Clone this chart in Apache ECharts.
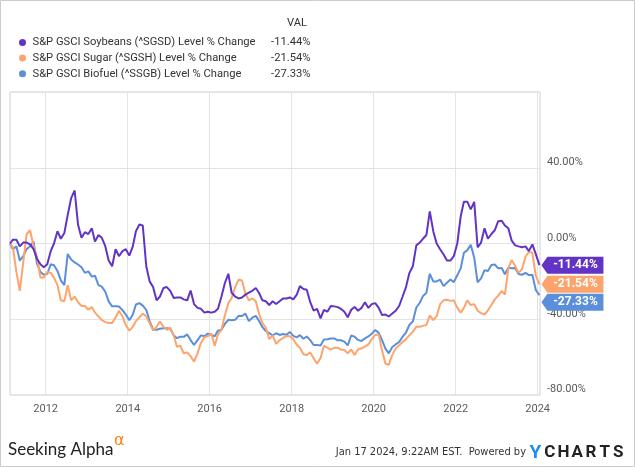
<!DOCTYPE html>
<html>
<head>
<meta charset="utf-8">
<script src="https://cdn.jsdelivr.net/npm/echarts@6/dist/echarts.min.js"></script>
<style>
html,body{margin:0;padding:0;background:#fff;}
#c{width:635px;height:467px;}
</style>
</head>
<body>
<div id="c"></div>
<script>
// Series names (legend)
const names = [
  'S&P GSCI Soybeans (^SGSD) Level % Change',
  'S&P GSCI Sugar (^SGSH) Level % Change',
  'S&P GSCI Biofuel (^SSGB) Level % Change'
];
const colors = ['#6134c6', '#fda46c', '#5b8edb'];

// Sampling dates: 2011-02-17, then mid-month 2011-03 .. 2023-12, then 2024-01-17
const dates = (function () {
  const d = ['2011-02-17'];
  for (let y = 2011; y <= 2023; y++) {
    for (let m = 1; m <= 12; m++) {
      if (y === 2011 && m < 3) continue;
      d.push(y + '-' + (m < 10 ? '0' + m : m) + '-15');
    }
  }
  d.push('2024-01-17');
  return d;
})();

// Soybeans % change
const soybeans = [
  0, 2, 2, -1.5, 0.5, 0.5, -0.5, -3, -8, -11, -12.5,
  -11, -4, 0, 6.5, 2.5, 5.5, 15, 24, 28, 10, 3, 6,
  5, 8, 1, 4.5, 3, -1.4, -9, -12, -3, -6.7, -4, -3,
  -6.4, -1.5, 6.5, 10, 9.5, -12, -20, -23, -30, -28, -23.5, -23,
  -25, -28.8, -28.5, -28.5, -29.5, -30, -24.8, -32, -34, -34.5, -36.5, -36,
  -36.5, -36, -34.5, -28, -21, -16, -26, -28, -29, -28.5, -27, -26,
  -25, -23.5, -26, -30, -30.5, -32.5, -30.5, -32, -30.5, -29, -29, -28.5,
  -29.5, -27, -22.5, -24, -24.4, -31, -35.5, -34.5, -39.5, -35, -36, -33,
  -33.2, -33.6, -34.5, -36, -39, -35, -33.5, -35.5, -34, -31, -34, -32,
  -31.5, -34, -37.7, -37.5, -38.5, -37, -35.5, -33, -28, -23, -15.5, -12,
  -1, 0.5, 2.5, 4.5, 17, 6.5, 0, -3, -5.8, -9, -9, -6.7,
  0, 14.5, 22, 22, 18, 22, -2, 0.5, 8, 2.5, 5, 7,
  11.8, 12, 9.5, 8, 1.5, -1, -1.5, -2, -1.5, -4, -0.5, -5.5,
  -11.44
];

// Sugar % change
const sugar = [
  0, -2, -15, -25, -10, 5, 7, -1.5, -7, -18, -18,
  -15, -15.5, -18, -22, -30, -30.5, -22, -30, -28, -31, -33, -33,
  -35, -33.5, -36.5, -38.5, -40.5, -41.5, -42, -42, -39, -35.5, -38.5, -43,
  -46, -44, -41, -39, -37, -38.5, -42, -46, -44, -41.2, -44, -45.6,
  -44.5, -48.5, -54.5, -54, -58, -57.5, -59.5, -62.4, -58, -52.5, -49.5, -49,
  -47.5, -54, -48, -45.5, -38, -31.5, -28.8, -23, -19.1, -19.5, -26.5, -30,
  -29, -30.5, -37, -42, -44.5, -50.5, -48.5, -53, -51, -50, -48.8, -49,
  -50.5, -53.5, -55, -58.5, -58.9, -57.5, -60.6, -63.5, -60.5, -54, -55, -56,
  -55, -55, -56, -56.2, -58, -56, -58.9, -56, -55.3, -54.5, -53.3, -50.5,
  -48.3, -48, -56.2, -63.5, -64, -58.8, -55.5, -53.8, -52, -50.5, -48.4, -46.5,
  -44, -44, -43.5, -43, -38, -40.5, -38.5, -32, -30, -29.7, -30.3, -30,
  -34, -36.5, -34, -30, -32.5, -32, -35.5, -36.8, -37.5, -35.3, -32.5, -29.5,
  -27.5, -25, -27, -13, -8.8, -11.8, -15.5, -13.5, -7, -4.5, -4.9, -17,
  -21.54
];

// Biofuel % change
const biofuel = [
  0, -3, -1.5, -9, -6.7, -3, -1.5, 1, -10.5, -15, -16.5,
  -16, -11, -11.5, -14.5, -19.5, -22, -5.5, -8.5, -10, -11.1, -12.5, -15.5,
  -14.7, -17.5, -17, -22, -22.8, -25.5, -30.6, -33.2, -33.2, -33.3, -35.2, -37.5,
  -40.5, -37.5, -32.2, -31.5, -32.8, -35, -41, -45.5, -45.5, -45, -44.7, -44.8,
  -45, -48.5, -50, -49.2, -49.3, -48, -51, -53.6, -51, -48.5, -49, -47.6,
  -48.2, -49, -46, -45.5, -42.5, -40.3, -40.5, -40.3, -38.2, -38.3, -37, -41,
  -39.2, -38.2, -40.8, -44.2, -46.2, -47.3, -48.6, -47.4, -48.3, -47.8, -48.2, -46.7,
  -48.8, -49.6, -48.4, -50.3, -49.1, -51, -53.6, -53.6, -53.8, -50.7, -50.6, -50.2,
  -50.1, -51.1, -51.1, -51.8, -53.8, -48.6, -49.2, -50.9, -51.5, -50.1, -49.1, -47.7,
  -45.7, -47.2, -50.9, -55.5, -58, -54.7, -53.3, -52, -49.2, -47, -42.9, -41.2,
  -33.8, -31.3, -27.8, -26, -16, -20, -20, -19.1, -22.5, -20.7, -19, -20.4,
  -16.8, -13, -4.9, -3.5, -0.7, -7.5, -20.5, -18.4, -14.1, -14.5, -11.3, -11.1,
  -13.1, -12.9, -16.2, -12.8, -13.1, -12.9, -16.1, -16.5, -15.5, -16.7, -16.5, -24.5,
  -27.33
];

const seriesValues = [soybeans, sugar, biofuel];
const yearTicks = [2012, 2014, 2016, 2018, 2020, 2022, 2024];
const yTicks = [-80, -40, 0, 40, 80];
const labelOffsetsY = [0, 0, 7];
const xRange = ['2011-02-17', '2024-01-22'];

const toTime = s => Date.parse(s);               // ISO date -> UTC ms
const tickTimes = yearTicks.map(y => Date.UTC(y, 0, 1));
const FONT = 'Roboto, "Liberation Sans", sans-serif';
const LEG_FS = 11.2;

function lastOf(a) { return a[a.length - 1]; }
function pct(v) { return v.toFixed(2) + '%'; }

const chart = echarts.init(document.getElementById('c'), null, { renderer: 'canvas' });

const series = seriesValues.map((vals, i) => ({
  name: names[i],
  type: 'line',
  data: dates.map((d, j) => [toTime(d), vals[j]]),
  showSymbol: false,
  symbol: 'none',
  lineStyle: { width: 2, color: colors[i] },
  itemStyle: { color: colors[i] },
  z: 3 + (2 - i),
  animation: false,
  markPoint: {
    symbol: 'path://M0,8.5L6,0L62,0L62,17L6,17Z',
    symbolSize: [62, 17],
    symbolKeepAspect: false,
    symbolOffset: [33, labelOffsetsY[i]],
    itemStyle: { color: colors[i] },
    label: {
      show: true,
      position: 'inside',
      offset: [3, 0],
      color: '#fff',
      fontFamily: FONT,
      fontSize: 12,
      fontWeight: 'bold',
      formatter: () => pct(lastOf(vals))
    },
    data: [{ coord: [toTime(lastOf(dates)), lastOf(vals)], value: lastOf(vals) }],
    animation: false,
    silent: true
  }
}));

const option = {
  animation: false,
  backgroundColor: '#fff',
  color: colors,
  grid: {
    left: 10, right: 95, top: 92, bottom: 72,
    show: true, borderColor: '#cfcfcf', borderWidth: 1,
    containLabel: false
  },
  legend: {
    orient: 'vertical',
    left: 14, top: 32,
    icon: 'circle',
    itemWidth: 10, itemHeight: 7,
    itemGap: 4.6,
    selectedMode: false,
    data: names,
    formatter: function (name) {
      const i = names.indexOf(name);
      return '{n|' + name + '}{v|' + pct(lastOf(seriesValues[i])) + '}';
    },
    textStyle: {
      fontFamily: FONT, fontSize: LEG_FS, color: '#333',
      rich: {
        n: { width: 232, fontFamily: FONT, fontSize: LEG_FS, color: '#333', lineHeight: 14 },
        v: { width: 46, align: 'right', fontFamily: FONT, fontSize: LEG_FS, color: '#333', lineHeight: 14 }
      }
    }
  },
  xAxis: {
    type: 'value',
    min: toTime(xRange[0]),
    max: toTime(xRange[1]),
    axisLine: { show: false },
    axisTick: { show: false, customValues: tickTimes },
    splitLine: { show: true, lineStyle: { color: '#e3e3e3', width: 1 } },
    axisLabel: {
      customValues: tickTimes,
      formatter: v => String(new Date(v).getUTCFullYear()),
      color: '#5a5a5a', fontFamily: FONT, fontSize: 11, margin: 9
    }
  },
  yAxis: {
    type: 'value',
    position: 'right',
    min: yTicks[0], max: yTicks[yTicks.length - 1], interval: 40,
    axisLine: { show: false },
    axisTick: { show: false },
    splitLine: { show: true, lineStyle: { color: '#e3e3e3', width: 1 } },
    axisLabel: {
      showMaxLabel: false,
      formatter: v => v.toFixed(2) + '%',
      color: '#5a5a5a', fontFamily: FONT, fontSize: 11, margin: 7,
      verticalAlign: 'bottom'
    }
  },
  graphic: [
    {
      type: 'rect', silent: true, z: 100,
      shape: { x: 0.5, y: 0.5, width: 634, height: 466 },
      style: { fill: 'none', stroke: '#cccccc', lineWidth: 1 }
    },
    {
      type: 'text', silent: true, x: 307, y: 23,
      style: { text: 'VAL', align: 'right', verticalAlign: 'middle', fill: '#333', font: LEG_FS + 'px ' + FONT }
    },
    {
      type: 'text', silent: true, x: 8, y: 449.5,
      style: { text: 'Seeking Alpha', align: 'left', verticalAlign: 'middle', fill: '#222', font: '17px Lato, "Open Sans", sans-serif' }
    },
    {
      type: 'text', silent: true, x: 114, y: 441,
      style: { text: 'α', align: 'left', verticalAlign: 'middle', fill: '#ff7f11', font: '16px "DejaVu Sans", sans-serif' }
    },
    {
      type: 'text', silent: true, x: 526, y: 452.5,
      style: { text: 'Jan 17 2024, 9:22AM EST.  Powered by', align: 'right', verticalAlign: 'middle', fill: '#333', font: '11px "Liberation Sans Narrow", "DejaVu Sans Condensed", Roboto, sans-serif' }
    },
    {
      type: 'text', silent: true, x: 528, y: 453,
      style: {
        text: '{y|Y}{c|C}{c|H}{c|A}{c|R}{c|T}{c|S}',
        align: 'left', verticalAlign: 'middle',
        rich: {
          y: { width: 15, align: 'center', fill: '#1b8ef2', font: 'bold 19px Roboto, sans-serif' },
          c: { width: 13.7, align: 'center', fill: '#222', font: 'bold 17px Roboto, sans-serif' }
        }
      }
    }
  ],
  series: series
};

chart.setOption(option);
</script>
</body>
</html>
